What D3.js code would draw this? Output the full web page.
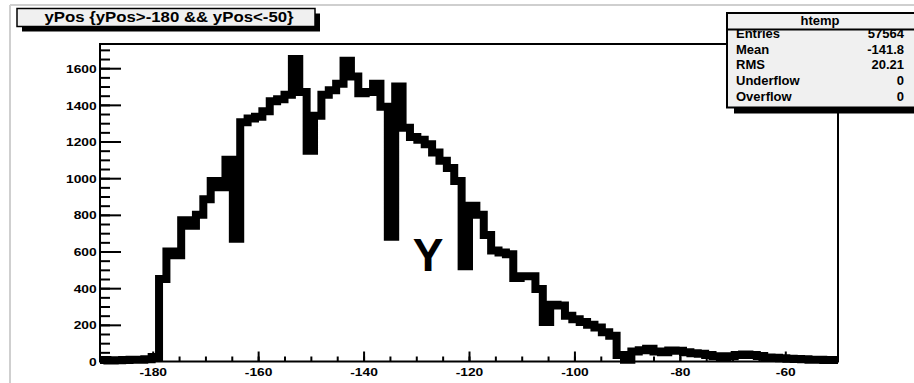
<!DOCTYPE html>
<html>
<head>
<meta charset="utf-8">
<script src="https://cdn.jsdelivr.net/npm/d3@7"></script>
<style>
  html, body { margin: 0; padding: 0; background: #ffffff; }
  svg { display: block; }
  text { font-family: "Liberation Sans", Arial, Helvetica, sans-serif; font-weight: bold; }
</style>
</head>
<body>
<svg id="chart" width="914" height="383"></svg>
<script>
// ---- data ----
const histTitle = "yPos {yPos>-180 && yPos<-50}";
const histName = "htemp";
const xMin = -190;
const xMax = -50;
const binCounts = [
  8, 6, 7, 8, 9, 10, 12, 25, 450, 600,
  580, 770, 740, 800, 885, 985, 950, 1100, 670, 1305,
  1325, 1335, 1365, 1420, 1430, 1455, 1650, 1470, 1150, 1340,
  1455, 1480, 1515, 1640, 1555, 1463, 1470, 1515, 1390, 680,
  1500, 1275, 1225, 1210, 1185, 1140, 1095, 1055, 985, 520,
  850, 800, 690, 605, 595, 585, 455, 465, 465, 395,
  215, 310, 305, 250, 230, 215, 200, 185, 160, 140,
  35, 10, 55, 62, 70, 55, 50, 60, 58, 50,
  45, 42, 35, 28, 25, 28, 35, 38, 35, 30,
  22, 20, 18, 15, 14, 12, 10, 10, 8, 8
];
const yMaxValue = 1732;
const xTickMajor = [-180, -160, -140, -120, -100, -80, -60];
const xTickMinor = d3.range(-185, -50, 5);
const yTickMajor = [0, 200, 400, 600, 800, 1000, 1200, 1400, 1600];
const yTickMinor = d3.range(0, 1750, 50);
const statLabels = ["Entries", "Mean", "RMS", "Underflow", "Overflow"];
const statValues = ["57564", "-141.8", "20.21", "0", "0"];
const annotationText = "Y";

// ---- layout ----
const svg = d3.select("#chart");
const frame = { left: 100, right: 838, top: 44, bottom: 361.5 };
const x = d3.scaleLinear().domain([xMin, xMax]).range([frame.left, frame.right]);
const y = d3.scaleLinear().domain([0, yMaxValue]).range([frame.bottom, frame.top]);
const binWidth = (xMax - xMin) / binCounts.length;

// pad border (light gray)
svg.append("line").attr("x1", 10).attr("y1", 5).attr("x2", 914).attr("y2", 5)
  .attr("stroke", "#cfcfcf").attr("stroke-width", 2);
svg.append("line").attr("x1", 10).attr("y1", 5).attr("x2", 10).attr("y2", 383)
  .attr("stroke", "#cfcfcf").attr("stroke-width", 2);

// histogram (thick step line)
const pts = binCounts.map((v, i) => [xMin + i * binWidth, v]);
pts.push([xMax, binCounts[binCounts.length - 1]]);
const line = d3.line().x(d => x(d[0])).y(d => y(d[1])).curve(d3.curveStepAfter);
svg.append("path").attr("d", line(pts))
  .attr("fill", "none").attr("stroke", "#000").attr("stroke-width", 8)
  .attr("stroke-linejoin", "miter").attr("stroke-linecap", "butt");

// minor ticks
const gxMinor = svg.append("g").attr("transform", `translate(0,${frame.bottom})`)
  .call(d3.axisBottom(x).tickValues(xTickMinor).tickSizeInner(-5).tickSizeOuter(0).tickFormat(""));
const gyMinor = svg.append("g").attr("transform", `translate(${frame.left},0)`)
  .call(d3.axisLeft(y).tickValues(yTickMinor).tickSizeInner(-10).tickSizeOuter(0).tickFormat(""));
[gxMinor, gyMinor].forEach(g => {
  g.select(".domain").remove();
  g.selectAll("line").attr("stroke", "#000").attr("stroke-width", 2);
});

// major ticks + labels
const gx = svg.append("g").attr("transform", `translate(0,${frame.bottom})`)
  .call(d3.axisBottom(x).tickValues(xTickMajor).tickSizeInner(-10).tickSizeOuter(0).tickPadding(6.5).tickFormat(d3.format("d")));
const gy = svg.append("g").attr("transform", `translate(${frame.left},0)`)
  .call(d3.axisLeft(y).tickValues(yTickMajor).tickSizeInner(-21).tickSizeOuter(0).tickPadding(2.8).tickFormat(d3.format("d")));
[gx, gy].forEach(g => {
  g.select(".domain").remove();
  g.selectAll("line").attr("stroke", "#000").attr("stroke-width", 2);
  g.selectAll("text").attr("fill", "#000").style("font-size", "11.5px")
    .style("font-family", "'Liberation Sans', Arial, sans-serif").style("font-weight", "bold")
    .attr("transform", "scale(1.2,1)");
});
gx.selectAll("text").text(d => d3.format("d")(d).replace("\u2212", "-"));
gy.selectAll("text").attr("dy", "0.36em");

// frame
svg.append("rect").attr("x", frame.left).attr("y", frame.top)
  .attr("width", frame.right - frame.left).attr("height", frame.bottom - frame.top)
  .attr("fill", "none").attr("stroke", "#000").attr("stroke-width", 2);

// annotation
svg.append("text").attr("x", 428).attr("y", 271).attr("text-anchor", "middle")
  .style("font-size", "46px").attr("fill", "#000").text(annotationText);

// title box
const tb = { x: 17, y: 8.5, w: 298, h: 18 };
svg.append("rect").attr("x", tb.x + 5).attr("y", tb.y + 5).attr("width", tb.w).attr("height", tb.h).attr("fill", "#000");
svg.append("rect").attr("x", tb.x).attr("y", tb.y).attr("width", tb.w).attr("height", tb.h)
  .attr("fill", "#f0f0f0").attr("stroke", "#000").attr("stroke-width", 1.5);
svg.append("text").attr("transform", `translate(169,21.5) scale(1.2,1)`).attr("text-anchor", "middle")
  .style("font-size", "14px").attr("fill", "#000").text(histTitle);

// stats box
const sb = { x: 727, y: 13, w: 190, h: 94.5 };
svg.append("rect").attr("x", sb.x + 7).attr("y", sb.y + 6).attr("width", sb.w).attr("height", sb.h).attr("fill", "#000");
svg.append("rect").attr("x", sb.x).attr("y", sb.y).attr("width", sb.w).attr("height", sb.h)
  .attr("fill", "#f0f0f0").attr("stroke", "#000").attr("stroke-width", 2);
svg.append("text").attr("x", 820).attr("y", 24.5).attr("text-anchor", "middle")
  .style("font-size", "13px").attr("fill", "#000").text(histName);
const rowY = [38, 53.5, 69, 85, 100.5];
statLabels.forEach((lab, i) => {
  svg.append("text").attr("x", 736).attr("y", rowY[i]).style("font-size", "13px").attr("fill", "#000").text(lab);
  svg.append("text").attr("x", 904).attr("y", rowY[i]).attr("text-anchor", "end")
    .style("font-size", "13px").attr("fill", "#000").text(statValues[i]);
});
svg.append("line").attr("x1", sb.x).attr("x2", sb.x + sb.w).attr("y1", 29.5).attr("y2", 29.5)
  .attr("stroke", "#000").attr("stroke-width", 2);
</script>
</body>
</html>
